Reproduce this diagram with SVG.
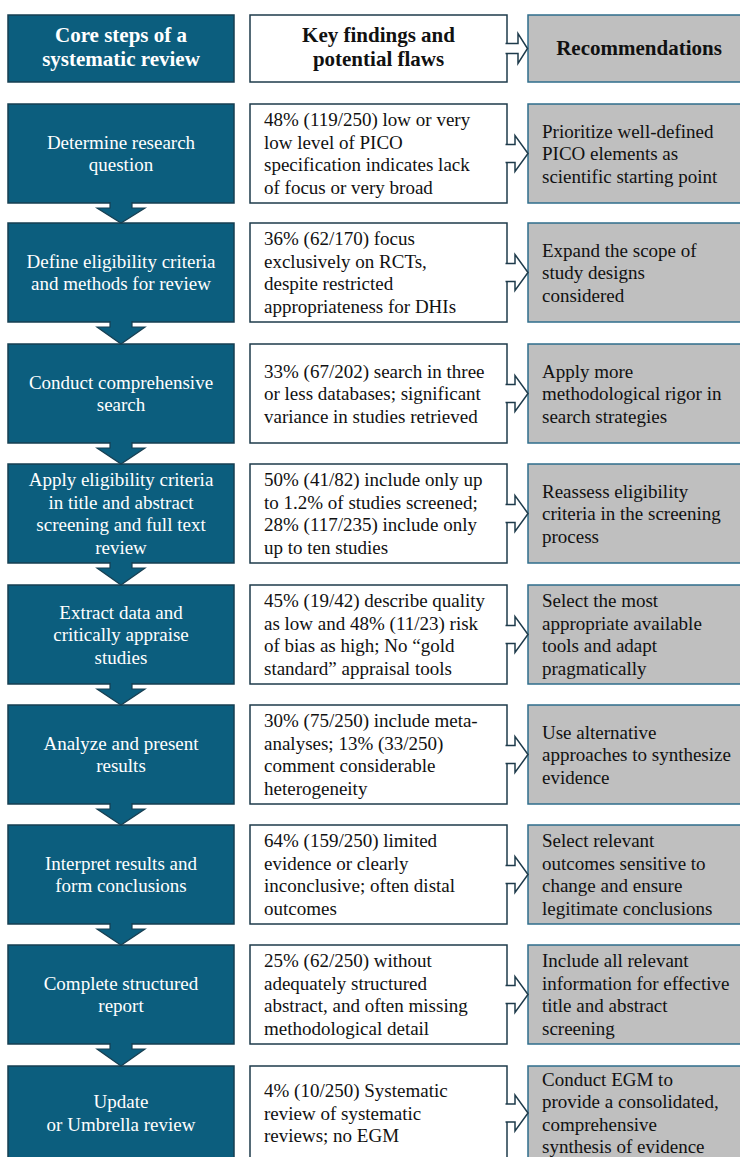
<svg xmlns="http://www.w3.org/2000/svg" width="740" height="1157" viewBox="0 0 740 1157">
<style>
.step{fill:#0c5e7e;stroke:#163f52;stroke-width:1.5}
.find{fill:#ffffff;stroke:#1e3b4b;stroke-width:1.5}
.rec{fill:#bfbfbf;stroke:#2f6e8c;stroke-width:1.5}
.down{fill:#0c5e7e;stroke:#163f52;stroke-width:1.2}
.chev{fill:#ffffff;stroke:#1e3b4b;stroke-width:1.5}
text{font-family:"Liberation Serif","Times New Roman",serif;font-size:19px}
.lt{fill:#ffffff;text-anchor:middle}
.mt{fill:#111111}
.rt{fill:#111111}
.hd{font-size:21px;font-weight:bold}
</style>
<rect width="740" height="1157" fill="#ffffff"/>

<g id="header">
<rect class="step" x="8" y="15" width="226" height="67"/>
<text class="lt hd" x="121" y="42"><tspan x="121">Core steps of a</tspan><tspan x="121" dy="24">systematic review</tspan></text>
<rect class="find" x="250" y="15" width="257" height="67"/>
<text class="mt hd" text-anchor="middle" x="378.5" y="42"><tspan x="378.5">Key findings and</tspan><tspan x="378.5" dy="24">potential flaws</tspan></text>
<rect class="rec" x="528" y="15" width="225" height="67"/>
<text class="rt hd" text-anchor="middle" x="639" y="55">Recommendations</text>
</g>

<g id="row1">
<rect class="step" x="8" y="104" width="226" height="99"/>
<text class="lt" y="148.75"><tspan x="121">Determine research</tspan><tspan x="121" dy="22.5">question</tspan></text>
<rect class="find" x="250" y="104" width="257" height="99"/>
<text class="mt" y="126.25"><tspan x="264">48% (119/250) low or very</tspan><tspan x="264" dy="22.5">low level of PICO</tspan><tspan x="264" dy="22.5">specification indicates lack</tspan><tspan x="264" dy="22.5">of focus or very broad</tspan></text>
<rect class="rec" x="528" y="104" width="225" height="99"/>
<text class="rt" y="137.5"><tspan x="542">Prioritize well-defined</tspan><tspan x="542" dy="22.5">PICO elements as</tspan><tspan x="542" dy="22.5">scientific starting point</tspan></text>
</g>

<g id="row2">
<rect class="step" x="8" y="223" width="226" height="99"/>
<text class="lt" y="267.75"><tspan x="121">Define eligibility criteria</tspan><tspan x="121" dy="22.5">and methods for review</tspan></text>
<rect class="find" x="250" y="223" width="257" height="99"/>
<text class="mt" y="245.25"><tspan x="264">36% (62/170) focus</tspan><tspan x="264" dy="22.5">exclusively on RCTs,</tspan><tspan x="264" dy="22.5">despite restricted</tspan><tspan x="264" dy="22.5">appropriateness for DHIs</tspan></text>
<rect class="rec" x="528" y="223" width="225" height="99"/>
<text class="rt" y="256.5"><tspan x="542">Expand the scope of</tspan><tspan x="542" dy="22.5">study designs</tspan><tspan x="542" dy="22.5">considered</tspan></text>
</g>

<g id="row3">
<rect class="step" x="8" y="344" width="226" height="99"/>
<text class="lt" y="388.75"><tspan x="121">Conduct comprehensive</tspan><tspan x="121" dy="22.5">search</tspan></text>
<rect class="find" x="250" y="344" width="257" height="99"/>
<text class="mt" y="377.5"><tspan x="264">33% (67/202) search in three</tspan><tspan x="264" dy="22.5">or less databases; significant</tspan><tspan x="264" dy="22.5">variance in studies retrieved</tspan></text>
<rect class="rec" x="528" y="344" width="225" height="99"/>
<text class="rt" y="377.5"><tspan x="542">Apply more</tspan><tspan x="542" dy="22.5">methodological rigor in</tspan><tspan x="542" dy="22.5">search strategies</tspan></text>
</g>

<g id="row4">
<rect class="step" x="8" y="464" width="226" height="99"/>
<text class="lt" y="486.25"><tspan x="121">Apply eligibility criteria</tspan><tspan x="121" dy="22.5">in title and abstract</tspan><tspan x="121" dy="22.5">screening and full text</tspan><tspan x="121" dy="22.5">review</tspan></text>
<rect class="find" x="250" y="464" width="257" height="99"/>
<text class="mt" y="486.25"><tspan x="264">50% (41/82) include only up</tspan><tspan x="264" dy="22.5">to 1.2% of studies screened;</tspan><tspan x="264" dy="22.5">28% (117/235) include only</tspan><tspan x="264" dy="22.5">up to ten studies</tspan></text>
<rect class="rec" x="528" y="464" width="225" height="99"/>
<text class="rt" y="497.5"><tspan x="542">Reassess eligibility</tspan><tspan x="542" dy="22.5">criteria in the screening</tspan><tspan x="542" dy="22.5">process</tspan></text>
</g>

<g id="row5">
<rect class="step" x="8" y="585" width="226" height="99"/>
<text class="lt" y="618.5"><tspan x="121">Extract data and</tspan><tspan x="121" dy="22.5">critically appraise</tspan><tspan x="121" dy="22.5">studies</tspan></text>
<rect class="find" x="250" y="585" width="257" height="99"/>
<text class="mt" y="607.25"><tspan x="264">45% (19/42) describe quality</tspan><tspan x="264" dy="22.5">as low and 48% (11/23) risk</tspan><tspan x="264" dy="22.5">of bias as high; No “gold</tspan><tspan x="264" dy="22.5">standard” appraisal tools</tspan></text>
<rect class="rec" x="528" y="585" width="225" height="99"/>
<text class="rt" y="607.25"><tspan x="542">Select the most</tspan><tspan x="542" dy="22.5">appropriate available</tspan><tspan x="542" dy="22.5">tools and adapt</tspan><tspan x="542" dy="22.5">pragmatically</tspan></text>
</g>

<g id="row6">
<rect class="step" x="8" y="705" width="226" height="99"/>
<text class="lt" y="749.75"><tspan x="121">Analyze and present</tspan><tspan x="121" dy="22.5">results</tspan></text>
<rect class="find" x="250" y="705" width="257" height="99"/>
<text class="mt" y="727.25"><tspan x="264">30% (75/250) include meta-</tspan><tspan x="264" dy="22.5">analyses; 13% (33/250)</tspan><tspan x="264" dy="22.5">comment considerable</tspan><tspan x="264" dy="22.5">heterogeneity</tspan></text>
<rect class="rec" x="528" y="705" width="225" height="99"/>
<text class="rt" y="738.5"><tspan x="542">Use alternative</tspan><tspan x="542" dy="22.5">approaches to synthesize</tspan><tspan x="542" dy="22.5">evidence</tspan></text>
</g>

<g id="row7">
<rect class="step" x="8" y="825" width="226" height="99"/>
<text class="lt" y="869.75"><tspan x="121">Interpret results and</tspan><tspan x="121" dy="22.5">form conclusions</tspan></text>
<rect class="find" x="250" y="825" width="257" height="99"/>
<text class="mt" y="847.25"><tspan x="264">64% (159/250) limited</tspan><tspan x="264" dy="22.5">evidence or clearly</tspan><tspan x="264" dy="22.5">inconclusive; often distal</tspan><tspan x="264" dy="22.5">outcomes</tspan></text>
<rect class="rec" x="528" y="825" width="225" height="99"/>
<text class="rt" y="847.25"><tspan x="542">Select relevant</tspan><tspan x="542" dy="22.5">outcomes sensitive to</tspan><tspan x="542" dy="22.5">change and ensure</tspan><tspan x="542" dy="22.5">legitimate conclusions</tspan></text>
</g>

<g id="row8">
<rect class="step" x="8" y="945" width="226" height="99"/>
<text class="lt" y="989.75"><tspan x="121">Complete structured</tspan><tspan x="121" dy="22.5">report</tspan></text>
<rect class="find" x="250" y="945" width="257" height="99"/>
<text class="mt" y="967.25"><tspan x="264">25% (62/250) without</tspan><tspan x="264" dy="22.5">adequately structured</tspan><tspan x="264" dy="22.5">abstract, and often missing</tspan><tspan x="264" dy="22.5">methodological detail</tspan></text>
<rect class="rec" x="528" y="945" width="225" height="99"/>
<text class="rt" y="967.25"><tspan x="542">Include all relevant</tspan><tspan x="542" dy="22.5">information for effective</tspan><tspan x="542" dy="22.5">title and abstract</tspan><tspan x="542" dy="22.5">screening</tspan></text>
</g>

<g id="row9">
<rect class="step" x="8" y="1066" width="226" height="99"/>
<text class="lt" y="1108.25"><tspan x="121">Update</tspan><tspan x="121" dy="22.5">or Umbrella review</tspan></text>
<rect class="find" x="250" y="1066" width="257" height="99"/>
<text class="mt" y="1097"><tspan x="264">4% (10/250) Systematic</tspan><tspan x="264" dy="22.5">review of systematic</tspan><tspan x="264" dy="22.5">reviews; no EGM</tspan></text>
<rect class="rec" x="528" y="1066" width="225" height="99"/>
<text class="rt" y="1085.75"><tspan x="542">Conduct EGM to</tspan><tspan x="542" dy="22.5">provide a consolidated,</tspan><tspan x="542" dy="22.5">comprehensive</tspan><tspan x="542" dy="22.5">synthesis of evidence</tspan></text>
</g>

<g id="connectors">
<path class="down" d="M110,202 V208 H97 L121,223 L145,208 H132 V202"/>
<path class="down" d="M110,321 V327 H97 L121,344 L145,327 H132 V321"/>
<path class="down" d="M110,442 V448 H97 L121,464 L145,448 H132 V442"/>
<path class="down" d="M110,562 V568 H97 L121,585 L145,568 H132 V562"/>
<path class="down" d="M110,683 V689 H97 L121,705 L145,689 H132 V683"/>
<path class="down" d="M110,803 V809 H97 L121,825 L145,809 H132 V803"/>
<path class="down" d="M110,923 V929 H97 L121,945 L145,929 H132 V923"/>
<path class="down" d="M110,1043 V1049 H97 L121,1066 L145,1049 H132 V1043"/>
<path class="chev" d="M505.5,43.5 H518 V33.5 L527.5,48.5 L518,63.5 V53.5 H505.5"/>
<path class="chev" d="M505.5,144.5 H515 V135.5 L528,153.5 L515,171.5 V162.5 H505.5"/>
<path class="chev" d="M505.5,263.5 H515 V254.5 L528,272.5 L515,290.5 V281.5 H505.5"/>
<path class="chev" d="M505.5,384.5 H515 V375.5 L528,393.5 L515,411.5 V402.5 H505.5"/>
<path class="chev" d="M505.5,504.5 H515 V495.5 L528,513.5 L515,531.5 V522.5 H505.5"/>
<path class="chev" d="M505.5,625.5 H515 V616.5 L528,634.5 L515,652.5 V643.5 H505.5"/>
<path class="chev" d="M505.5,745.5 H515 V736.5 L528,754.5 L515,772.5 V763.5 H505.5"/>
<path class="chev" d="M505.5,865.5 H515 V856.5 L528,874.5 L515,892.5 V883.5 H505.5"/>
<path class="chev" d="M505.5,985.5 H515 V976.5 L528,994.5 L515,1012.5 V1003.5 H505.5"/>
<path class="chev" d="M505.5,1104 H515 V1095 L528,1113 L515,1131 V1122 H505.5"/>
</g>
</svg>
